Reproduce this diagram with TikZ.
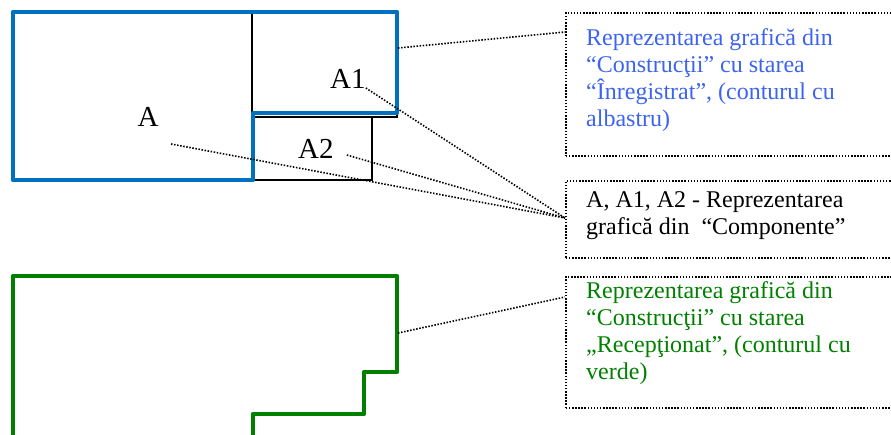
\documentclass[tikz,border=0pt]{standalone}
\usepackage{fontspec}
\setmainfont{Liberation Serif}
\usetikzlibrary{calc}
\definecolor{outlineblue}{RGB}{0,112,192}
\definecolor{textblue}{RGB}{60,100,240}
\definecolor{outlinegreen}{RGB}{0,128,0}
\definecolor{textgreen}{RGB}{0,128,0}
\tikzset{
  dots/.style={line width=1.6pt, dash pattern=on 1.5pt off 1.6pt},
  notebox/.style={dots, draw=black, rectangle, anchor=north west, inner sep=0pt},
  notetext/.style={anchor=base west, inner sep=0pt, font=\fontsize{24}{27}\selectfont},
  partlabel/.style={inner sep=0pt, font=\fontsize{29}{33}\selectfont},
  thinline/.style={line width=1.6pt, draw=black},
  blueoutline/.style={line width=4.8pt, draw=outlineblue, line join=round},
  greenoutline/.style={line width=4.8pt, draw=outlinegreen, line join=round},
}
\begin{document}
\begin{tikzpicture}[x=1pt, y=-1pt]
\useasboundingbox (0,0) rectangle (891,434);
\clip (0,0) rectangle (891,434);

% component rectangles A1 and A2
\draw[thinline] (252,12) rectangle (397,117);
\draw[thinline] (253,117) rectangle (372,180);

% registered construction outline
\draw[blueoutline] (13,12) -- (397,12) -- (397,113) -- (253,113) -- (253,180) -- (13,180) -- cycle;

% received construction outline
\draw[greenoutline] (13,276) -- (397,276) -- (397,372) -- (364,372) -- (364,414) -- (253,414) -- (253,437) -- (13,437) -- cycle;

% component labels
\node[partlabel, anchor=base] (labA) at (148,126) {A};
\node[partlabel, anchor=base west] (labA1) at (330,88) {A1};
\node[partlabel, anchor=base west] (labA2) at (298,158) {A2};

% note boxes
\node[notebox, minimum width=330pt, minimum height=143pt] (noteBlue) at (565,12) {};
\node[notebox, minimum width=330pt, minimum height=77pt] (noteComp) at (565,180) {};
\node[notebox, minimum width=330pt, minimum height=131pt] (noteGreen) at (565,276) {};

\node[notetext, text=textblue] (txtBlue) at (586,45) {\parbox[t]{300pt}{\raggedright
Reprezentarea grafică din\\
“Construcţii” cu starea\\
“Înregistrat”, (conturul cu\\
albastru)}};
\node[notetext] (txtComp) at (586,207) {\parbox[t]{300pt}{\raggedright
A, A1, A2 - Reprezentarea\\
grafică din\ \ “Componente”}};
\node[notetext, text=textgreen] (txtGreen) at (586,298) {\parbox[t]{300pt}{\raggedright
Reprezentarea grafică din\\
“Construcţii” cu starea\\
„Recepţionat”, (conturul cu\\
verde)}};

% connector end points
\coordinate (blueEdge) at (398,48);
\coordinate (greenEdge) at (398,333);
\coordinate (blueIn) at ($(noteBlue.north west)+(0,20)$);
\coordinate (compIn) at ($(noteComp.north west)+(0,38)$);
\coordinate (greenIn) at ($(noteGreen.north west)+(0,21)$);
\coordinate (fromA) at ($(labA.base)+(23,18)$);
\coordinate (fromA1) at (labA1.base east);
\coordinate (fromA2) at ($(labA2.base east)+(13,-3)$);

% dotted connectors
\draw[dots] (blueEdge) -- (blueIn);
\draw[dots] (greenEdge) -- (greenIn);
\draw[dots] (fromA) -- (compIn);
\draw[dots] (fromA1) -- (compIn);
\draw[dots] (fromA2) -- (compIn);
\end{tikzpicture}
\end{document}
